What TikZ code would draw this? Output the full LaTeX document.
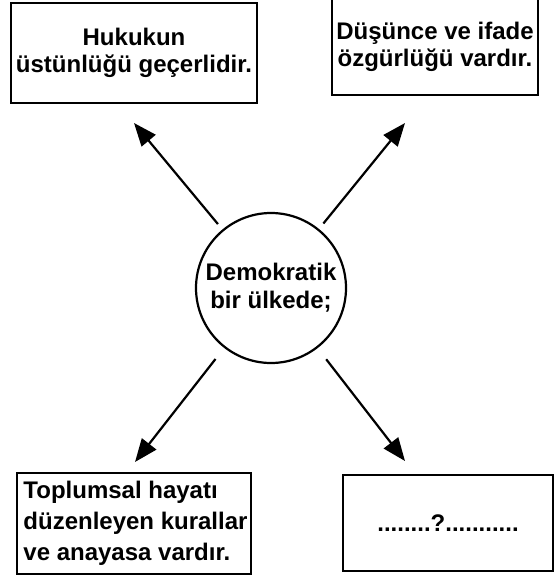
\documentclass[tikz,border=0pt]{standalone}
\usepackage{fontspec}
\setmainfont{Liberation Sans}
\usetikzlibrary{arrows.meta}

\begin{document}
\begin{tikzpicture}[
                        x=1pt,
                        y=-1pt,
                        -{Triangle[length=23pt,width=18pt]},
                        line width=2.2pt,
                        font=\bfseries\fontsize{24}{27}\selectfont
                    ]
                    \tikzstyle{kutu}=[draw=black,line width=2.5pt,inner sep=0pt,align=center]
                    \tikzstyle{merkez}=[circle,draw=black,line width=2.2pt,minimum size=150pt,inner sep=0pt,align=center,font=\bfseries\fontsize{24}{28}\selectfont]

                    \useasboundingbox (0,0) rectangle (558,577);

                    \node[merkez] (D) at (271,288) {Demokratik\\bir ülkede;};

                    \node[kutu,minimum width=246pt,minimum height=100pt] (H) at (134,53)
                        {Hukukun\\üstünlüğü geçerlidir.};
                    \node[kutu,minimum width=206pt,minimum height=96pt] (F) at (435,47)
                        {Düşünce ve ifade\\özgürlüğü vardır.};
                    \node[kutu,minimum width=234pt,minimum height=101pt,align=left,
                          font=\bfseries\fontsize{24}{31}\selectfont] (T) at (134,523.5)
                        {\hspace*{3pt}Toplumsal hayatı\\\hspace*{3pt}düzenleyen kurallar\\\hspace*{3pt}ve anayasa vardır.};
                    \node[kutu,minimum width=210pt,minimum height=96pt] (S) at (448,523)
                        {........?...........};

                    \coordinate (h) at (134,123);
                    \coordinate (f) at (405,123);
                    \coordinate (t) at (135,462);
                    \coordinate (s) at (405,461);

                    \draw[shorten <=7pt]  (D) -- (h);
                    \draw[shorten <=7pt]  (D) -- (f);
                    \draw[shorten <=14pt] (D) -- (t);
                    \draw[shorten <=14pt] (D) -- (s);

                \end{tikzpicture}
\end{document}
